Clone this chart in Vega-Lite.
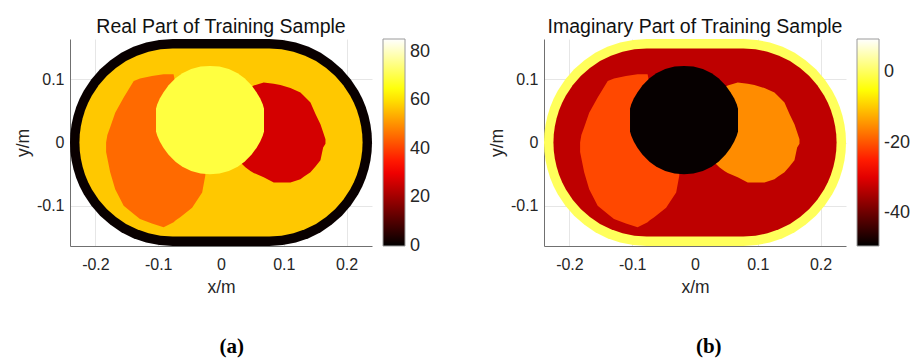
{
  "$schema": "https://vega.github.io/schema/vega-lite/v6.json",
  "background": "white",
  "padding": {"left": 14, "top": 16, "right": 5, "bottom": 2},
  "config": {
    "view": {"stroke": null},
    "font": "Liberation Sans",
    "title": {"font": "Liberation Sans", "fontSize": 19.5, "fontWeight": "normal", "color": "#111111", "offset": 2},
    "axis": {
      "labelFont": "Liberation Sans", "labelFontSize": 16, "labelColor": "#262626",
      "titleFont": "Liberation Sans", "titleFontSize": 17.5, "titleFontWeight": "normal", "titleColor": "#262626",
      "domainColor": "#707070", "domainWidth": 1, "ticks": false, "tickSize": 0,
      "grid": true, "gridColor": "#e6e6e6", "gridWidth": 1
    },
    "legend": {
      "labelFont": "Liberation Sans", "labelFontSize": 18, "labelColor": "#262626",
      "gradientStrokeColor": "#9a9a9a", "gradientStrokeWidth": 1, "padding": 0
    }
  },
  "datasets": {
    "shapes": [
      {"r": "outer", "x": -0.2405, "hi": 0.0, "lo": 0.0},
      {"r": "outer", "x": -0.2399, "hi": 0.0143, "lo": -0.0143},
      {"r": "outer", "x": -0.238, "hi": 0.0284, "lo": -0.0284},
      {"r": "outer", "x": -0.2349, "hi": 0.0423, "lo": -0.0423},
      {"r": "outer", "x": -0.2306, "hi": 0.0559, "lo": -0.0559},
      {"r": "outer", "x": -0.2252, "hi": 0.0691, "lo": -0.0691},
      {"r": "outer", "x": -0.2186, "hi": 0.0818, "lo": -0.0818},
      {"r": "outer", "x": -0.2067, "hi": 0.0995, "lo": -0.0995},
      {"r": "outer", "x": -0.1926, "hi": 0.1156, "lo": -0.1156},
      {"r": "outer", "x": -0.1765, "hi": 0.1297, "lo": -0.1297},
      {"r": "outer", "x": -0.1588, "hi": 0.1416, "lo": -0.1416},
      {"r": "outer", "x": -0.1396, "hi": 0.1511, "lo": -0.1511},
      {"r": "outer", "x": -0.1193, "hi": 0.1579, "lo": -0.1579},
      {"r": "outer", "x": -0.0983, "hi": 0.1621, "lo": -0.1621},
      {"r": "outer", "x": -0.077, "hi": 0.1635, "lo": -0.1635},
      {"r": "outer", "x": 0.077, "hi": 0.1635, "lo": -0.1635},
      {"r": "outer", "x": 0.0983, "hi": 0.1621, "lo": -0.1621},
      {"r": "outer", "x": 0.1193, "hi": 0.1579, "lo": -0.1579},
      {"r": "outer", "x": 0.1396, "hi": 0.1511, "lo": -0.1511},
      {"r": "outer", "x": 0.1588, "hi": 0.1416, "lo": -0.1416},
      {"r": "outer", "x": 0.1765, "hi": 0.1297, "lo": -0.1297},
      {"r": "outer", "x": 0.1926, "hi": 0.1156, "lo": -0.1156},
      {"r": "outer", "x": 0.2067, "hi": 0.0995, "lo": -0.0995},
      {"r": "outer", "x": 0.2186, "hi": 0.0818, "lo": -0.0818},
      {"r": "outer", "x": 0.2252, "hi": 0.0691, "lo": -0.0691},
      {"r": "outer", "x": 0.2306, "hi": 0.0559, "lo": -0.0559},
      {"r": "outer", "x": 0.2349, "hi": 0.0423, "lo": -0.0423},
      {"r": "outer", "x": 0.238, "hi": 0.0284, "lo": -0.0284},
      {"r": "outer", "x": 0.2399, "hi": 0.0143, "lo": -0.0143},
      {"r": "outer", "x": 0.2405, "hi": 0.0, "lo": 0.0},

      {"r": "inner", "x": -0.2255, "hi": 0.0, "lo": 0.0},
      {"r": "inner", "x": -0.2249, "hi": 0.013, "lo": -0.013},
      {"r": "inner", "x": -0.2232, "hi": 0.0258, "lo": -0.0258},
      {"r": "inner", "x": -0.2204, "hi": 0.0384, "lo": -0.0384},
      {"r": "inner", "x": -0.2165, "hi": 0.0508, "lo": -0.0508},
      {"r": "inner", "x": -0.2116, "hi": 0.0628, "lo": -0.0628},
      {"r": "inner", "x": -0.2056, "hi": 0.0743, "lo": -0.0743},
      {"r": "inner", "x": -0.1948, "hi": 0.0904, "lo": -0.0904},
      {"r": "inner", "x": -0.182, "hi": 0.105, "lo": -0.105},
      {"r": "inner", "x": -0.1674, "hi": 0.1178, "lo": -0.1178},
      {"r": "inner", "x": -0.1513, "hi": 0.1286, "lo": -0.1286},
      {"r": "inner", "x": -0.1338, "hi": 0.1372, "lo": -0.1372},
      {"r": "inner", "x": -0.1154, "hi": 0.1434, "lo": -0.1434},
      {"r": "inner", "x": -0.0964, "hi": 0.1472, "lo": -0.1472},
      {"r": "inner", "x": -0.077, "hi": 0.1485, "lo": -0.1485},
      {"r": "inner", "x": 0.077, "hi": 0.1485, "lo": -0.1485},
      {"r": "inner", "x": 0.0964, "hi": 0.1472, "lo": -0.1472},
      {"r": "inner", "x": 0.1154, "hi": 0.1434, "lo": -0.1434},
      {"r": "inner", "x": 0.1338, "hi": 0.1372, "lo": -0.1372},
      {"r": "inner", "x": 0.1513, "hi": 0.1286, "lo": -0.1286},
      {"r": "inner", "x": 0.1674, "hi": 0.1178, "lo": -0.1178},
      {"r": "inner", "x": 0.182, "hi": 0.105, "lo": -0.105},
      {"r": "inner", "x": 0.1948, "hi": 0.0904, "lo": -0.0904},
      {"r": "inner", "x": 0.2056, "hi": 0.0743, "lo": -0.0743},
      {"r": "inner", "x": 0.2116, "hi": 0.0628, "lo": -0.0628},
      {"r": "inner", "x": 0.2165, "hi": 0.0508, "lo": -0.0508},
      {"r": "inner", "x": 0.2204, "hi": 0.0384, "lo": -0.0384},
      {"r": "inner", "x": 0.2232, "hi": 0.0258, "lo": -0.0258},
      {"r": "inner", "x": 0.2249, "hi": 0.013, "lo": -0.013},
      {"r": "inner", "x": 0.2255, "hi": 0.0, "lo": 0.0},

      {"r": "left", "x": -0.183, "hi": 0.0, "lo": -0.015},
      {"r": "left", "x": -0.181, "hi": 0.012, "lo": -0.025},
      {"r": "left", "x": -0.1765, "hi": 0.024, "lo": -0.047},
      {"r": "left", "x": -0.1685, "hi": 0.047, "lo": -0.074},
      {"r": "left", "x": -0.155, "hi": 0.071, "lo": -0.1},
      {"r": "left", "x": -0.139, "hi": 0.097, "lo": -0.113},
      {"r": "left", "x": -0.129, "hi": 0.101, "lo": -0.121},
      {"r": "left", "x": -0.11, "hi": 0.105, "lo": -0.128},
      {"r": "left", "x": -0.0914, "hi": 0.108, "lo": -0.134},
      {"r": "left", "x": -0.0755, "hi": 0.108, "lo": -0.126},
      {"r": "left", "x": -0.072, "hi": 0.09, "lo": -0.123},
      {"r": "left", "x": -0.065, "hi": 0.05, "lo": -0.118},
      {"r": "left", "x": -0.046, "hi": 0.0, "lo": -0.103},
      {"r": "left", "x": -0.03, "hi": -0.04, "lo": -0.079},
      {"r": "left", "x": -0.025, "hi": -0.05, "lo": -0.052},

      {"r": "right", "x": 0.03, "hi": 0.0, "lo": -0.03},
      {"r": "right", "x": 0.0335, "hi": 0.06, "lo": -0.034},
      {"r": "right", "x": 0.0388, "hi": 0.08, "lo": -0.039},
      {"r": "right", "x": 0.0468, "hi": 0.087, "lo": -0.045},
      {"r": "right", "x": 0.0521, "hi": 0.09, "lo": -0.048},
      {"r": "right", "x": 0.068, "hi": 0.0947, "lo": -0.055},
      {"r": "right", "x": 0.084, "hi": 0.093, "lo": -0.063},
      {"r": "right", "x": 0.0946, "hi": 0.091, "lo": -0.063},
      {"r": "right", "x": 0.1106, "hi": 0.086, "lo": -0.063},
      {"r": "right", "x": 0.1265, "hi": 0.079, "lo": -0.058},
      {"r": "right", "x": 0.1318, "hi": 0.074, "lo": -0.054},
      {"r": "right", "x": 0.1425, "hi": 0.063, "lo": -0.047},
      {"r": "right", "x": 0.1505, "hi": 0.045, "lo": -0.038},
      {"r": "right", "x": 0.1584, "hi": 0.029, "lo": -0.028},
      {"r": "right", "x": 0.1627, "hi": 0.016, "lo": -0.008},
      {"r": "right", "x": 0.1664, "hi": 0.005, "lo": -0.002},

      {"r": "core", "x": -0.1035, "hi": 0.0535, "lo": 0.0175},
      {"r": "core", "x": -0.1015, "hi": 0.0605, "lo": 0.0105},
      {"r": "core", "x": -0.0975, "hi": 0.0695, "lo": 0.0015},
      {"r": "core", "x": -0.0915, "hi": 0.0795, "lo": -0.0085},
      {"r": "core", "x": -0.0835, "hi": 0.0905, "lo": -0.0195},
      {"r": "core", "x": -0.0725, "hi": 0.1015, "lo": -0.0305},
      {"r": "core", "x": -0.0615, "hi": 0.1095, "lo": -0.0385},
      {"r": "core", "x": -0.0475, "hi": 0.1160, "lo": -0.0450},
      {"r": "core", "x": -0.0325, "hi": 0.1200, "lo": -0.0490},
      {"r": "core", "x": -0.0175, "hi": 0.1210, "lo": -0.0500},
      {"r": "core", "x": -0.0025, "hi": 0.1200, "lo": -0.0490},
      {"r": "core", "x": 0.0125, "hi": 0.1160, "lo": -0.0450},
      {"r": "core", "x": 0.0265, "hi": 0.1095, "lo": -0.0385},
      {"r": "core", "x": 0.0375, "hi": 0.1015, "lo": -0.0305},
      {"r": "core", "x": 0.0485, "hi": 0.0905, "lo": -0.0195},
      {"r": "core", "x": 0.0565, "hi": 0.0795, "lo": -0.0085},
      {"r": "core", "x": 0.0625, "hi": 0.0695, "lo": 0.0015},
      {"r": "core", "x": 0.0665, "hi": 0.0605, "lo": 0.0105},
      {"r": "core", "x": 0.0685, "hi": 0.0535, "lo": 0.0175}
    ],
    "valsA": [
      {"r": "outer", "v": 1},
      {"r": "inner", "v": 57.1},
      {"r": "left", "v": 45.3},
      {"r": "right", "v": 26.6},
      {"r": "core", "v": 69.4}
    ],
    "valsB": [
      {"r": "outer", "v": 0},
      {"r": "inner", "v": -33},
      {"r": "left", "v": -21.1},
      {"r": "right", "v": -15.2},
      {"r": "core", "v": -49}
    ]
  },
  "spacing": 57,
  "resolve": {"scale": {"color": "independent"}, "legend": {"color": "independent"}},
  "hconcat": [
    {
      "title": {"text": "(a)", "orient": "bottom", "anchor": "middle", "font": "Liberation Serif", "fontWeight": "bold", "fontSize": 21, "color": "#000000", "baseline": "top", "offset": 40, "dx": 9},
      "vconcat": [
        {
          "title": {"text": "Real Part of Training Sample", "anchor": "middle"},
          "width": 302,
          "height": 207,
          "data": {"name": "shapes"},
          "encoding": {
            "x": {"field": "x", "type": "quantitative",
                  "scale": {"domain": [-0.2405, 0.2405], "nice": false, "zero": false},
                  "axis": {"values": [-0.2, -0.1, 0, 0.1, 0.2], "title": "x/m", "labelPadding": 10, "titlePadding": 6, "labelExpr": "replace(format(datum.value, '~g'), '−', '-')"}},
            "y": {"field": "hi", "type": "quantitative",
                  "scale": {"domain": [-0.1635, 0.1635], "nice": false, "zero": false},
                  "axis": {"values": [-0.1, 0, 0.1], "title": "y/m", "labelPadding": 6, "titlePadding": 4, "labelExpr": "replace(format(datum.value, '~g'), '−', '-')"}},
            "y2": {"field": "lo"},
            "color": {"field": "v", "type": "quantitative",
                      "scale": {"type": "linear", "domain": [-0.1, 31.96, 64.03, 85.4], "range": ["#000000", "#ff0000", "#ffff00", "#ffffff"], "interpolate": "rgb", "zero": false, "nice": false, "clamp": true},
                      "legend": {"title": null, "orient": "right", "direction": "vertical", "gradientLength": 207, "gradientThickness": 22, "offset": 11, "labelOffset": 5, "values": [0, 20, 40, 60, 80], "labelOverlap": false, "padding": 0}}
          },
          "layer": [
            {"transform": [{"filter": "datum.r === 'outer'"}, {"lookup": "r", "from": {"data": {"name": "valsA"}, "key": "r", "fields": ["v"]}}], "mark": {"type": "area", "orient": "vertical"}},
            {"transform": [{"filter": "datum.r === 'inner'"}, {"lookup": "r", "from": {"data": {"name": "valsA"}, "key": "r", "fields": ["v"]}}], "mark": {"type": "area", "orient": "vertical"}},
            {"transform": [{"filter": "datum.r === 'left'"}, {"lookup": "r", "from": {"data": {"name": "valsA"}, "key": "r", "fields": ["v"]}}], "mark": {"type": "area", "orient": "vertical"}},
            {"transform": [{"filter": "datum.r === 'right'"}, {"lookup": "r", "from": {"data": {"name": "valsA"}, "key": "r", "fields": ["v"]}}], "mark": {"type": "area", "orient": "vertical"}},
            {"transform": [{"filter": "datum.r === 'core'"}, {"lookup": "r", "from": {"data": {"name": "valsA"}, "key": "r", "fields": ["v"]}}], "mark": {"type": "area", "orient": "vertical"}}
          ]
        }
      ]
    },
    {
      "title": {"text": "(b)", "orient": "bottom", "anchor": "middle", "font": "Liberation Serif", "fontWeight": "bold", "fontSize": 21, "color": "#000000", "baseline": "top", "offset": 40, "dx": 9},
      "vconcat": [
        {
          "title": {"text": "Imaginary Part of Training Sample", "anchor": "middle"},
          "width": 302,
          "height": 207,
          "data": {"name": "shapes"},
          "encoding": {
            "x": {"field": "x", "type": "quantitative",
                  "scale": {"domain": [-0.2405, 0.2405], "nice": false, "zero": false},
                  "axis": {"values": [-0.2, -0.1, 0, 0.1, 0.2], "title": "x/m", "labelPadding": 10, "titlePadding": 6, "labelExpr": "replace(format(datum.value, '~g'), '−', '-')"}},
            "y": {"field": "hi", "type": "quantitative",
                  "scale": {"domain": [-0.1635, 0.1635], "nice": false, "zero": false},
                  "axis": {"values": [-0.1, 0, 0.1], "title": "y/m", "labelPadding": 6, "titlePadding": 4, "labelExpr": "replace(format(datum.value, '~g'), '−', '-')"}},
            "y2": {"field": "lo"},
            "color": {"field": "v", "type": "quantitative",
                      "scale": {"type": "linear", "domain": [-49.5, -27.375, -5.25, 9.5], "range": ["#000000", "#ff0000", "#ffff00", "#ffffff"], "interpolate": "rgb", "zero": false, "nice": false, "clamp": true},
                      "legend": {"title": null, "orient": "right", "direction": "vertical", "gradientLength": 207, "gradientThickness": 22, "offset": 11, "labelOffset": 5, "values": [-40, -20, 0], "labelOverlap": false, "padding": 0, "labelExpr": "replace(format(datum.value, '~g'), '−', '-')"}}
          },
          "layer": [
            {"transform": [{"filter": "datum.r === 'outer'"}, {"lookup": "r", "from": {"data": {"name": "valsB"}, "key": "r", "fields": ["v"]}}], "mark": {"type": "area", "orient": "vertical"}},
            {"transform": [{"filter": "datum.r === 'inner'"}, {"lookup": "r", "from": {"data": {"name": "valsB"}, "key": "r", "fields": ["v"]}}], "mark": {"type": "area", "orient": "vertical"}},
            {"transform": [{"filter": "datum.r === 'left'"}, {"lookup": "r", "from": {"data": {"name": "valsB"}, "key": "r", "fields": ["v"]}}], "mark": {"type": "area", "orient": "vertical"}},
            {"transform": [{"filter": "datum.r === 'right'"}, {"lookup": "r", "from": {"data": {"name": "valsB"}, "key": "r", "fields": ["v"]}}], "mark": {"type": "area", "orient": "vertical"}},
            {"transform": [{"filter": "datum.r === 'core'"}, {"lookup": "r", "from": {"data": {"name": "valsB"}, "key": "r", "fields": ["v"]}}], "mark": {"type": "area", "orient": "vertical"}}
          ]
        }
      ]
    }
  ]
}
